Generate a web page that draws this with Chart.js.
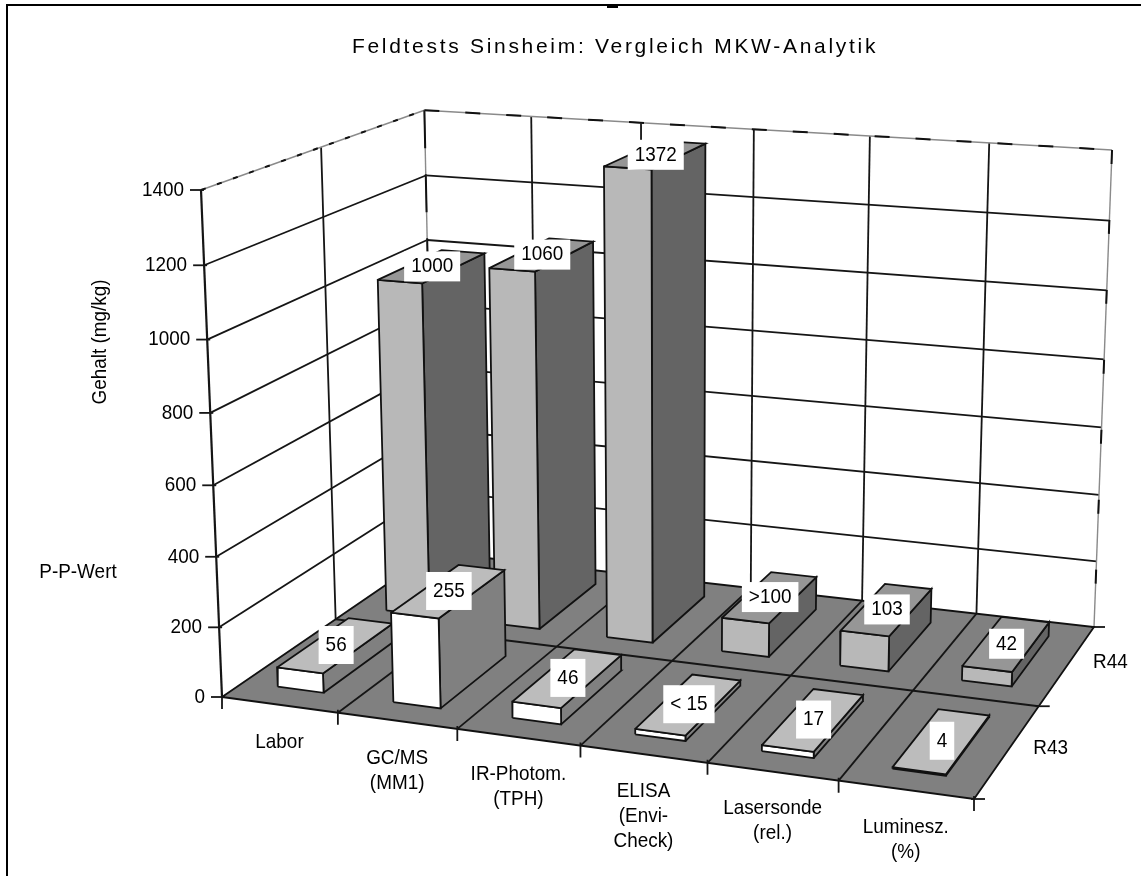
<!DOCTYPE html>
<html>
<head>
<meta charset="utf-8">
<title>Feldtests Sinsheim</title>
<script src="https://cdn.jsdelivr.net/npm/chart.js@4"></script>
<style>
    html, body { margin: 0; padding: 0; background: #fff; overflow: hidden; }
    canvas { display: block; }
</style>
</head>
<body>
<canvas id="mkwChart" width="1141" height="876"></canvas>
<script>
const CATEGORIES = [['Labor'], ['GC/MS', '(MM1)'], ['IR-Photom.', '(TPH)'], ['ELISA', '(Envi-', 'Check)'], ['Lasersonde', '(rel.)'], ['Luminesz.', '(%)']];
const SERIES = ['R43', 'R44'];
const R43_VALUES = [56, 255, 46, 15, 17, 4];
const R44_VALUES = [1000, 1060, 1372, 100, 103, 42];
const R43_LABELS = ['56', '255', '46', '< 15', '17', '4'];
const R44_LABELS = ['1000', '1060', '1372', '>100', '103', '42'];
const VALUE_TICKS = [0, 200, 400, 600, 800, 1000, 1200, 1400];
const VALUE_MAX = 1400;

const FONT = '"Liberation Sans", Arial, sans-serif';

// corners of the 3D box on the page, everything else is projected from these
const BOX = {
    front: [222, 697], right: [974, 799], backRight: [1094, 627], back: [434, 552],
    topFront: [201, 190], topBackRight: [1112, 149]
};

function solveProjection() {
    const O = BOX.front, B = BOX.right, C = BOX.backRight, D = BOX.back, T = BOX.topBackRight, A = BOX.topFront;
    const k = [B[0] + D[0] - O[0] - C[0], B[1] + D[1] - O[1] - C[1]];
    const m = [B[0] - C[0], B[1] - C[1]];
    const n = [D[0] - C[0], D[1] - C[1]];
    const det = m[0] * n[1] - n[0] * m[1];
    const p = (-k[0] * n[1] + n[0] * k[1]) / det;
    const q = (-m[0] * k[1] + k[0] * m[1]) / det;
    // r: least squares on the top back right corner
    const s = 1 + p + q;
    const rhs = [(T[0] - C[0]) * s - A[0] + O[0], (T[1] - C[1]) * s - A[1] + O[1]];
    const d = [A[0] - T[0], A[1] - T[1]];
    const r = (d[0] * rhs[0] + d[1] * rhs[1]) / (d[0] * d[0] + d[1] * d[1]);
    return { p, q, r };
}
const PROJ = solveProjection();

// full projective map of (u along categories, v along series, value up)
function project(u, v, value) {
    const O = BOX.front, B = BOX.right, D = BOX.back, A = BOX.topFront;
    const h = value / VALUE_MAX;
    const { p, q, r } = PROJ;
    const w = 1 + u * p + v * q + h * r;
    return {
        x: (O[0] + u * (B[0] * (1 + p) - O[0]) + v * (D[0] * (1 + q) - O[0]) + h * (A[0] * (1 + r) - O[0])) / w,
        y: (O[1] + u * (B[1] * (1 + p) - O[1]) + v * (D[1] * (1 + q) - O[1]) + h * (A[1] * (1 + r) - O[1])) / w
    };
}

const datasets = [];

function addLine(points, color, width, dash) {
    datasets.push({
        data: points.map(p => ({ x: p.x, y: p.y })),
        showLine: true, borderColor: color, borderWidth: width, borderDash: dash || [], pointRadius: 0,
        fill: false, tension: 0, clip: false
    });
}

function addFace(points, fillColor) {
    const closed = points.concat([points[0]]);
    datasets.push({
        data: closed.map(p => ({ x: p.x, y: p.y })),
        showLine: true, borderColor: '#111', borderWidth: 1.8, pointRadius: 0,
        backgroundColor: fillColor, fill: 'shape', tension: 0, clip: false
    });
}

const CAT_COUNT = CATEGORIES.length;
const LINE = '#151515';
const EDGE = '#8a8a8a';

// walls
VALUE_TICKS.slice(1, -1).forEach(val => {
    addLine([project(0, 0, val), project(0, 1, val)], LINE, 1.8);
    addLine([project(0, 1, val), project(1, 1, val)], LINE, 1.8);
});
addLine([project(0, 0, 0), project(0, 0, VALUE_MAX)], LINE, 2.2);
addLine([project(0, 0.5, 0), project(0, 0.5, VALUE_MAX)], LINE, 1.8);
for (let i = 1; i < CAT_COUNT; i++) {
    addLine([project(i / CAT_COUNT, 1, 0), project(i / CAT_COUNT, 1, VALUE_MAX)], LINE, 1.8);
}
// grey outer edges with the black dashes of the original
[
    [project(0, 0, VALUE_MAX), project(0, 1, VALUE_MAX), [5, 12]],
    [project(0, 1, VALUE_MAX), project(1, 1, VALUE_MAX), [15, 26]],
    [project(0, 1, VALUE_MAX), project(0, 1, 0), [38, 26]],
    [project(1, 1, VALUE_MAX), project(1, 1, 0), [14, 56]]
].forEach(e => {
    addLine([e[0], e[1]], EDGE, 1.4);
    addLine([e[0], e[1]], '#111', 2, e[2]);
});

// floor
addFace([project(0, 0, 0), project(1, 0, 0), project(1, 1, 0), project(0, 1, 0)], '#808080');
for (let i = 1; i < CAT_COUNT; i++) {
    addLine([project(i / CAT_COUNT, 0, 0), project(i / CAT_COUNT, 1, 0)], LINE, 1.8);
}
addLine([project(0, 0.5, 0), project(1, 0.5, 0)], LINE, 1.8);

// axis ticks
VALUE_TICKS.forEach(val => {
    const p = project(0, 0, val);
    addLine([{ x: p.x - 11, y: p.y }, { x: p.x + 3, y: p.y }], LINE, 1.8);
});
for (let i = 0; i <= CAT_COUNT; i++) {
    const p = project(i / CAT_COUNT, 0, 0);
    addLine([{ x: p.x, y: p.y - 3 }, { x: p.x, y: p.y + 12 }], LINE, 1.8);
}
[0, 0.5, 1].forEach(v => {
    const p = project(1, v, 0);
    addLine([{ x: p.x - 3, y: p.y }, { x: p.x + 11, y: p.y }], LINE, 1.8);
});

const BAR_HALF_WIDTH = 0.2 / CAT_COUNT;
const ROW_COLORS = [
    { front: '#ffffff', top: '#bcbcbc', side: '#808080' },
    { front: '#b8b8b8', top: '#969696', side: '#646464' }
];

function addBar(cat, row, value) {
    const uc = (cat + 0.5) / CAT_COUNT;
    const u0 = uc - BAR_HALF_WIDTH, u1 = uc + BAR_HALF_WIDTH;
    const v0 = (row + 0.18) / 2, v1 = (row + 0.82) / 2;
    const col = ROW_COLORS[row];
    addFace([project(u1, v0, 0), project(u1, v1, 0), project(u1, v1, value), project(u1, v0, value)], col.side);
    addFace([project(u0, v0, 0), project(u1, v0, 0), project(u1, v0, value), project(u0, v0, value)], col.front);
    addFace([project(u0, v0, value), project(u1, v0, value), project(u1, v1, value), project(u0, v1, value)], col.top);
}

[R44_VALUES, R43_VALUES].forEach((values, idx) => {
    values.forEach((val, cat) => addBar(cat, 1 - idx, val));
});

// text is a bit taller and narrower than plain Liberation Sans in the original
function tallText(ctx, text, x, y) {
    ctx.save();
    ctx.translate(x, y);
    ctx.scale(0.9, 1);
    ctx.fillText(text, 0, 0);
    ctx.restore();
}

const labelPlugin = {
    id: 'labelPlugin',
    afterDatasetsDraw(chart) {
        const ctx = chart.ctx;
        const sx = chart.scales.x, sy = chart.scales.y;
        const px = p => ({ x: sx.getPixelForValue(p.x), y: sy.getPixelForValue(p.y) });
        ctx.save();
        ctx.textBaseline = 'middle';
        ctx.font = '21px ' + FONT;

        // frame is open at the right and bottom
        ctx.fillStyle = '#000';
        ctx.fillRect(6, 4, 1135, 2);
        ctx.fillRect(6, 4, 2, 872);
        ctx.fillRect(607, 6, 11, 2);

        ctx.textAlign = 'center';
        ctx.letterSpacing = '2.7px';
        ctx.fillText('Feldtests Sinsheim: Vergleich MKW-Analytik', 615, 47);
        ctx.letterSpacing = '0px';
        tallText(ctx, 'P-P-Wert', 78, 572);

        ctx.save();
        ctx.translate(100, 342);
        ctx.rotate(-Math.PI / 2);
        tallText(ctx, 'Gehalt (mg/kg)', 0, 0);
        ctx.restore();

        // value axis
        ctx.textAlign = 'right';
        VALUE_TICKS.forEach(val => {
            const p = px(project(0, 0, val));
            tallText(ctx, String(val), p.x - 17, p.y);
        });

        // category and series labels
        ctx.textAlign = 'center';
        CATEGORIES.forEach((lines, i) => {
            const p = px(project((i + 0.5) / CAT_COUNT, 0, 0));
            lines.forEach((t, j) => tallText(ctx, t, p.x, p.y + 37 + j * 25));
        });
        SERIES.forEach((name, row) => {
            const p = px(project(1, (row + 0.5) / 2, 0));
            tallText(ctx, name, p.x + 43, p.y - 3);
        });

        // value boxes on top of each bar
        [[R43_VALUES, R43_LABELS, 38], [R44_VALUES, R44_LABELS, 30]].forEach((set, row) => {
            set[0].forEach((val, cat) => {
                const p = px(project((cat + 0.5) / CAT_COUNT, (row + 0.5) / 2, val));
                const w = ctx.measureText(set[1][cat]).width * 0.9 + 14;
                ctx.fillStyle = '#fff';
                ctx.fillRect(p.x - w / 2, p.y - set[2] / 2, w, set[2]);
                ctx.fillStyle = '#000';
                tallText(ctx, set[1][cat], p.x, p.y);
            });
        });
        ctx.restore();
    }
};

new Chart(document.getElementById('mkwChart'), {
    type: 'scatter',
    data: { datasets: datasets.reverse() }, // first dataset is painted last
    options: {
        responsive: false,
        animation: false,
        layout: { padding: 0 },
        plugins: { legend: { display: false }, tooltip: { enabled: false } },
        scales: {
            x: { type: 'linear', min: 0, max: 1141, display: false },
            y: { type: 'linear', min: 0, max: 876, reverse: true, display: false }
        }
    },
    plugins: [labelPlugin]
});
</script>
</body>
</html>
